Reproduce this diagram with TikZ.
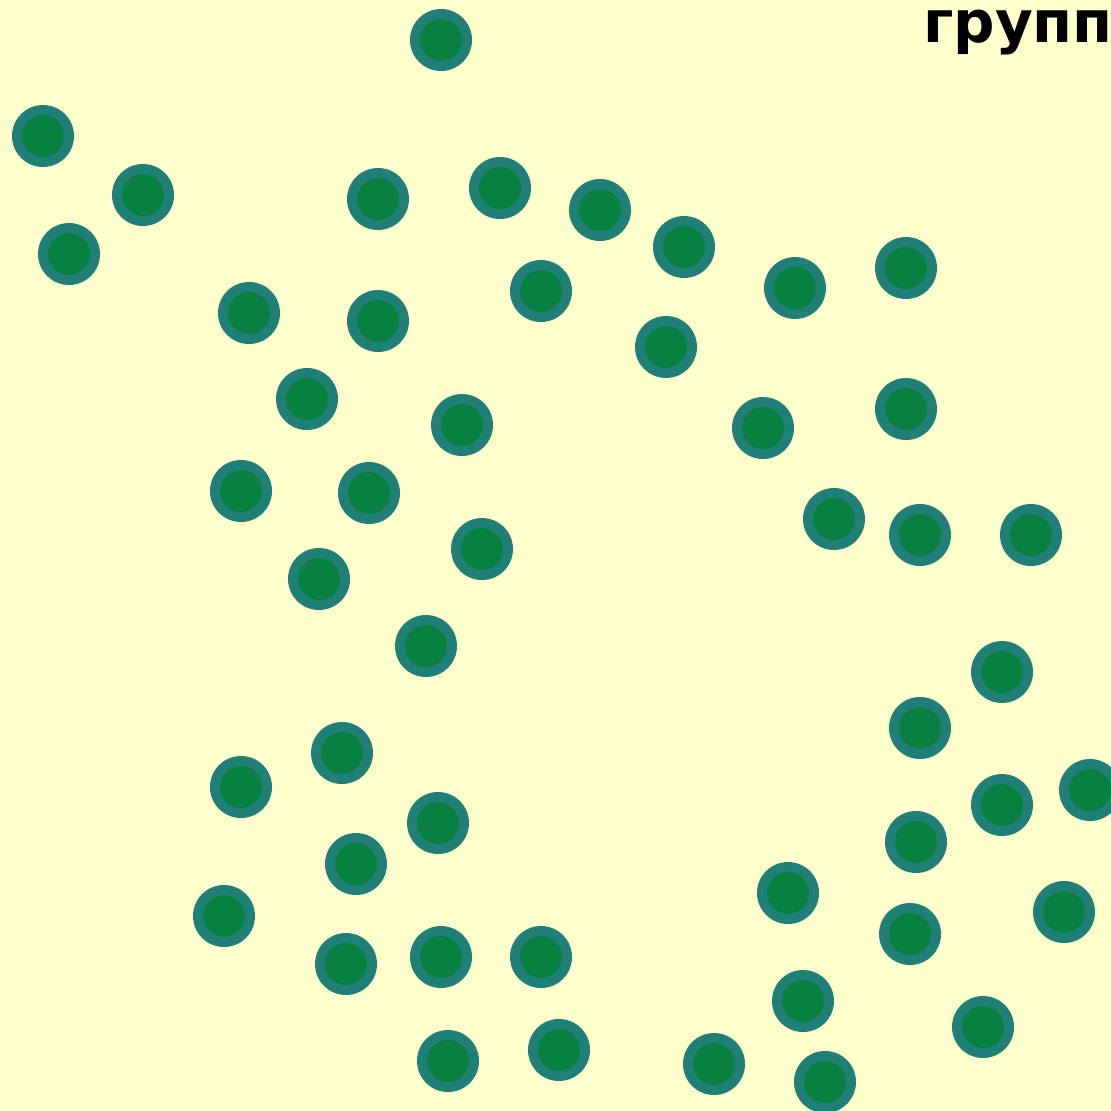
\documentclass[tikz,border=0pt]{standalone}
\usepackage{fontspec}
\setmainfont{DejaVu Sans}
\definecolor{bg}{RGB}{255,255,204}
\definecolor{ring}{RGB}{32,128,120}
\definecolor{core}{RGB}{8,128,64}
\begin{document}
\begin{tikzpicture}[x=1pt,y=-1pt,
  cell/.style={circle,fill=ring,minimum size=62pt,inner sep=0pt,draw=none},
  nucleus/.style={circle,fill=core,minimum size=42pt,inner sep=0pt,draw=none}]
\useasboundingbox (0,0) rectangle (1111,1111);
\clip (0,0) rectangle (1111,1111);
\fill[bg] (0,0) rectangle (1111,1111);
\foreach \x/\y [count=\i] in {441/40,43/136,143/195,69/254,378/199,500/188,600/210,684/247,795/288,906/268,
  249/313,378/321,541/291,666/347,307/399,462/425,763/428,906/409,241/491,369/493,
  834/519,920/535,1031/535,482/549,319/579,426/646,1002/672,920/728,342/753,241/787,
  1090/790,1002/805,438/823,916/842,356/864,788/893,224/916,1064/912,910/934,346/964,
  441/957,541/957,803/1001,983/1027,448/1061,559/1050,714/1064,825/1082}{
  \node[cell] (c\i) at (\x,\y) {};
  \node[nucleus] (n\i) at (\x,\y) {};
}
\node[anchor=base west,inner sep=0pt,font=\bfseries\fontsize{58}{60}\selectfont] (title) at (923,42) {групп};
\end{tikzpicture}
\end{document}
